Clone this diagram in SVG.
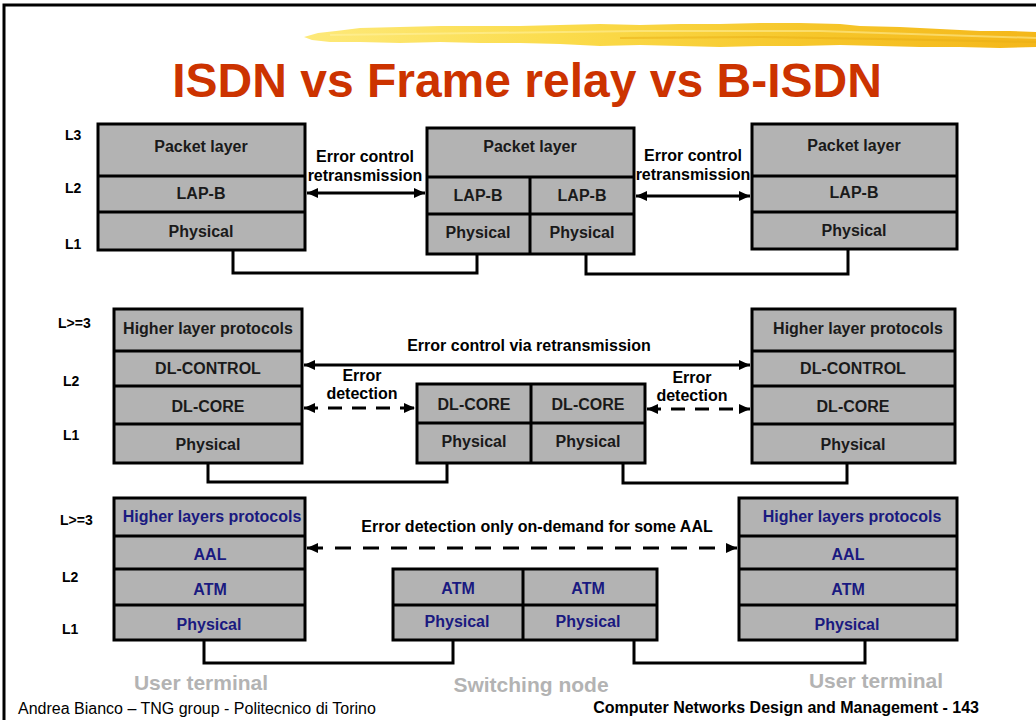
<svg xmlns="http://www.w3.org/2000/svg" width="1036" height="720" viewBox="0 0 1036 720">
<style>
.box{fill:#b3b3b3;stroke:#000;stroke-width:3}
.div{stroke:#000;stroke-width:3;fill:none}
.t{font-family:"Liberation Sans",Arial,sans-serif;font-weight:bold;font-size:16px;fill:#1a1a1a;text-anchor:middle}
.n{fill:#1a1a80}
.lv{font-family:"Liberation Sans",Arial,sans-serif;font-weight:bold;font-size:14px;fill:#000}
.lab{font-family:"Liberation Sans",Arial,sans-serif;font-weight:bold;font-size:16px;fill:#000;text-anchor:middle}
.g{font-family:"Liberation Sans",Arial,sans-serif;font-weight:bold;font-size:21px;fill:#b3b3b3;text-anchor:middle}
.link{stroke:#000;stroke-width:3;fill:none}
.arr{stroke:#000;stroke-width:3;fill:none;marker-start:url(#ah);marker-end:url(#ah)}
</style>
<defs>
<marker id="ah" markerUnits="userSpaceOnUse" markerWidth="12" markerHeight="12" refX="11" refY="6" orient="auto-start-reverse">
<path d="M0,1 L11,6 L0,11 Z" fill="#000"/>
</marker>
<linearGradient id="yel" x1="0" y1="0" x2="1" y2="0">
<stop offset="0" stop-color="#fde97a"/>
<stop offset="0.35" stop-color="#fbdc4c"/>
<stop offset="0.7" stop-color="#f6c62a"/>
<stop offset="1" stop-color="#f4b71a"/>
</linearGradient>
</defs>
<rect x="0" y="0" width="1036" height="720" fill="#fff"/>
<path d="M4,720 L4,5 L1036,5" fill="none" stroke="#000" stroke-width="3"/>
<g id="brush">
<path d="M304,37 L318,33 L336,31 L360,28 L400,27 L440,26 L480,26 L520,26 L560,25 L600,24 L640,25 L680,24 L720,24 L760,23 L800,23 L840,24 L860,26 L900,27 L940,29 L980,31 L1010,31 L1036,32 L1036,47 L1000,48 L960,47 L920,47 L880,46 L840,45 L800,46 L760,46 L720,47 L680,46 L640,45 L600,46 L560,44 L520,43 L480,43 L440,42 L400,43 L360,42 L330,42 L312,40 Z" fill="url(#yel)"/>
<path d="M330,35 L480,33 L640,31 L820,31 L1036,38" fill="none" stroke="#fff3a8" stroke-width="2" opacity="0.5"/>
<path d="M620,38 L760,37 L880,39 L1036,42" fill="none" stroke="#e8ad14" stroke-width="2" opacity="0.5"/>
</g>
<text x="527" y="97" style="font-family:'Liberation Sans',Arial,sans-serif;font-weight:bold;font-size:48px;fill:#cc3300" text-anchor="middle">ISDN vs Frame relay vs B-ISDN</text>

<g id="levels">
<text class="lv" x="65" y="140">L3</text>
<text class="lv" x="65" y="193">L2</text>
<text class="lv" x="65" y="249">L1</text>
<text class="lv" x="58" y="328">L&gt;=3</text>
<text class="lv" x="63" y="386">L2</text>
<text class="lv" x="63" y="440">L1</text>
<text class="lv" x="60" y="525">L&gt;=3</text>
<text class="lv" x="62" y="582">L2</text>
<text class="lv" x="62" y="634">L1</text>
</g>

<g id="x25-user-left">
<rect class="box" x="98" y="124" width="207" height="126"/>
<path class="div" d="M98,176 H305 M98,212 H305"/>
<text class="t" x="201" y="152">Packet layer</text>
<text class="t" x="201" y="199">LAP-B</text>
<text class="t" x="201" y="237">Physical</text>
</g>
<g id="x25-switch">
<rect class="box" x="427" y="128" width="207" height="126"/>
<path class="div" d="M427,177 H634 M427,214 H634 M530,177 V254"/>
<text class="t" x="530" y="152">Packet layer</text>
<text class="t" x="478" y="201">LAP-B</text>
<text class="t" x="582" y="201">LAP-B</text>
<text class="t" x="478" y="238">Physical</text>
<text class="t" x="582" y="238">Physical</text>
</g>
<g id="x25-user-right">
<rect class="box" x="752" y="124" width="205" height="125"/>
<path class="div" d="M752,176 H957 M752,212 H957"/>
<text class="t" x="854" y="151">Packet layer</text>
<text class="t" x="854" y="198">LAP-B</text>
<text class="t" x="854" y="236">Physical</text>
</g>

<g id="fr-user-left">
<rect class="box" x="114" y="309" width="188" height="154"/>
<path class="div" d="M114,351 H302 M114,386 H302 M114,424 H302"/>
<text class="t" x="208" y="334">Higher layer protocols</text>
<text class="t" x="208" y="374">DL-CONTROL</text>
<text class="t" x="208" y="412">DL-CORE</text>
<text class="t" x="208" y="450">Physical</text>
</g>
<g id="fr-switch">
<rect class="box" x="417" y="384" width="228" height="79"/>
<path class="div" d="M417,423 H645 M531,384 V463"/>
<text class="t" x="474" y="410">DL-CORE</text>
<text class="t" x="588" y="410">DL-CORE</text>
<text class="t" x="474" y="447">Physical</text>
<text class="t" x="588" y="447">Physical</text>
</g>
<g id="fr-user-right">
<rect class="box" x="752" y="309" width="203" height="154"/>
<path class="div" d="M752,351 H955 M752,386 H955 M752,424 H955"/>
<text class="t" x="858" y="334">Higher layer protocols</text>
<text class="t" x="853" y="374">DL-CONTROL</text>
<text class="t" x="853" y="412">DL-CORE</text>
<text class="t" x="853" y="450">Physical</text>
</g>

<g id="atm-user-left">
<rect class="box" x="114" y="498" width="191" height="142"/>
<path class="div" d="M114,536 H305 M114,569 H305 M114,605 H305"/>
<text class="t n" x="212" y="522">Higher layers protocols</text>
<text class="t n" x="210" y="560">AAL</text>
<text class="t n" x="210" y="595">ATM</text>
<text class="t n" x="209" y="630">Physical</text>
</g>
<g id="atm-switch">
<rect class="box" x="393" y="569" width="264" height="71"/>
<path class="div" d="M393,605 H657 M523,569 V640"/>
<text class="t n" x="458" y="594">ATM</text>
<text class="t n" x="588" y="594">ATM</text>
<text class="t n" x="457" y="627">Physical</text>
<text class="t n" x="588" y="627">Physical</text>
</g>
<g id="atm-user-right">
<rect class="box" x="739" y="498" width="218" height="142"/>
<path class="div" d="M739,536 H957 M739,569 H957 M739,605 H957"/>
<text class="t n" x="852" y="522">Higher layers protocols</text>
<text class="t n" x="848" y="560">AAL</text>
<text class="t n" x="848" y="595">ATM</text>
<text class="t n" x="847" y="630">Physical</text>
</g>

<g id="connectors">
<path class="link" d="M233,251 V273 H477 V255"/>
<path class="link" d="M586,255 V274 H848 V250"/>
<path class="link" d="M208,464 V482 H447 V464"/>
<path class="link" d="M623,464 V483 H847 V464"/>
<path class="link" d="M204,641 V663 H453 V641"/>
<path class="link" d="M634,641 V663 H865 V641"/>
<path class="arr" d="M307,193 H425"/>
<path class="arr" d="M636,196 H750"/>
<path class="arr" d="M304,365 H750"/>
<path class="arr" d="M304,408 H415" stroke-dasharray="14 10"/>
<path class="arr" d="M647,409 H750" stroke-dasharray="14 10"/>
<path class="arr" d="M307,548 H737" stroke-dasharray="16 12"/>
</g>

<g id="arrow-labels">
<text class="lab" x="365" y="162">Error control</text>
<text class="lab" x="365" y="181">retransmission</text>
<text class="lab" x="693" y="161">Error control</text>
<text class="lab" x="693" y="180">retransmission</text>
<text class="lab" x="529" y="351">Error control via retransmission</text>
<text class="lab" x="362" y="381">Error</text>
<text class="lab" x="362" y="399">detection</text>
<text class="lab" x="692" y="383">Error</text>
<text class="lab" x="692" y="401">detection</text>
<text class="lab" x="537" y="532">Error detection only on-demand for some AAL</text>
</g>

<g id="captions">
<text class="g" x="201" y="690">User terminal</text>
<text class="g" x="531" y="692">Switching node</text>
<text class="g" x="876" y="688">User terminal</text>
<text x="18" y="714" style="font-family:'Liberation Sans',Arial,sans-serif;font-size:16px;fill:#000">Andrea Bianco – TNG group - Politecnico di Torino</text>
<text x="979" y="713" text-anchor="end" style="font-family:'Liberation Sans',Arial,sans-serif;font-weight:bold;font-size:16px;fill:#000">Computer Networks Design and Management - 143</text>
</g>
</svg>
